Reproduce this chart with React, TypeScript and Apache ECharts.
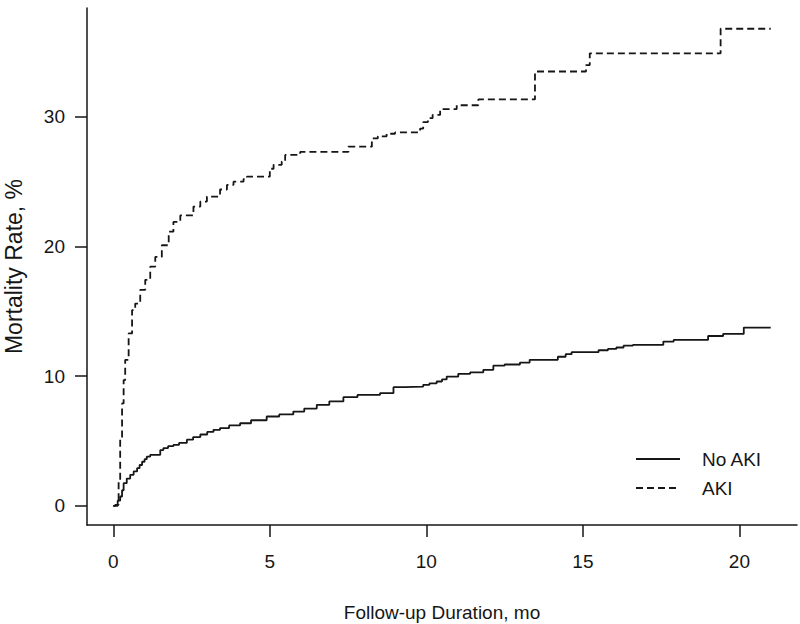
import React, { useEffect, useRef } from "react";
import * as echarts from "echarts";

// Kaplan-Meier style cumulative mortality (step changes at each time)
const akiTime = [0, 0.06, 0.17, 0.22, 0.28, 0.33, 0.38, 0.49, 0.6, 0.7, 0.86, 1.02, 1.18, 1.34, 1.55, 1.77, 1.92, 2.14, 2.56, 2.78, 2.99, 3.41, 3.63, 3.84, 4.16, 4.27, 5.0, 5.12, 5.38, 5.49, 5.97, 7.51, 8.26, 8.45, 8.73, 9.0, 9.8, 9.9, 10.05, 10.2, 10.44, 10.97, 11.66, 13.47, 15.1, 15.22, 19.4, 21];
const akiRate = [0, 0.08, 2.0, 5.1, 7.9, 9.7, 11.26, 13.3, 15.1, 15.6, 16.66, 17.43, 18.45, 19.2, 20.1, 21.15, 21.9, 22.4, 23.08, 23.47, 23.85, 24.4, 24.75, 25.0, 25.2, 25.4, 26.0, 26.3, 26.55, 27.07, 27.3, 27.7, 28.35, 28.5, 28.7, 28.8, 29.1, 29.6, 29.9, 30.15, 30.6, 30.9, 31.35, 33.5, 34.0, 34.9, 36.8, 36.8];

const noAkiTime = [0, 0.06, 0.14, 0.22, 0.28, 0.33, 0.43, 0.54, 0.65, 0.76, 0.84, 0.92, 1.0, 1.07, 1.18, 1.5, 1.6, 1.75, 1.92, 2.1, 2.35, 2.55, 2.78, 3.0, 3.2, 3.41, 3.7, 4.05, 4.4, 4.9, 5.3, 5.75, 6.1, 6.5, 6.9, 7.35, 7.8, 8.52, 8.95, 9.3, 9.9, 10.1, 10.33, 10.5, 10.65, 11.02, 11.4, 11.82, 12.14, 12.5, 12.99, 13.3, 14.2, 14.45, 14.64, 15.5, 15.8, 16.07, 16.3, 16.6, 17.57, 17.9, 19.0, 19.48, 20.14, 21];
const noAkiRate = [0, 0, 0.4, 0.72, 1.2, 1.75, 2.1, 2.39, 2.65, 2.9, 3.15, 3.4, 3.6, 3.8, 3.93, 4.3, 4.45, 4.6, 4.7, 4.85, 5.1, 5.3, 5.5, 5.7, 5.86, 6.0, 6.2, 6.37, 6.6, 6.89, 7.05, 7.27, 7.5, 7.79, 8.05, 8.38, 8.55, 8.69, 9.15, 9.2, 9.33, 9.45, 9.59, 9.75, 9.97, 10.18, 10.3, 10.49, 10.82, 10.9, 11.05, 11.26, 11.5, 11.7, 11.85, 12.0, 12.1, 12.21, 12.35, 12.42, 12.67, 12.8, 13.1, 13.26, 13.75, 13.75];

const xTicks = [0, 5, 10, 15, 20];
const yTicks = [0, 10, 20, 30];
const seriesNames = ["No AKI", "AKI"];

const FONT = "'Liberation Sans', Arial, sans-serif";
const INK = "#161616";
const DASH = [7, 4];

export default function App() {
  const ref = useRef<HTMLDivElement>(null);
  useEffect(() => {
    if (!ref.current) return;
    const chart = echarts.init(ref.current, null, { renderer: "svg" });
    const pair = (t: number[], v: number[]) => t.map((x, i) => [x, v[i]]);
    const legendRow = (y: number, name: string, dash: number[] | null) => ({
      type: "group",
      children: [
        {
          type: "line",
          shape: { x1: 636, y1: y, x2: 680, y2: y },
          style: { stroke: INK, lineWidth: 1.8, lineDash: dash || undefined },
        },
        {
          type: "text",
          x: 702,
          y: y,
          style: { text: name, fontSize: 19, fontFamily: FONT, fill: INK, verticalAlign: "middle", align: "left" },
        },
      ],
    });
    chart.setOption({
      animation: false,
      backgroundColor: "#ffffff",
      textStyle: { fontFamily: FONT, color: INK },
      grid: { left: 87, right: 3, top: 8, bottom: 99, containLabel: false, outerBoundsMode: "none" },
      graphic: [legendRow(459, seriesNames[0], null), legendRow(488, seriesNames[1], DASH)],
      xAxis: {
        type: "value",
        min: -0.84,
        max: 21.84,
        name: "Follow-up Duration, mo",
        nameLocation: "middle",
        nameGap: 78,
        nameTextStyle: { fontSize: 19, fontFamily: FONT, color: INK },
        axisLine: { show: true, onZero: false, lineStyle: { color: INK, width: 1.5 } },
        axisTick: { show: true, length: 12, inside: false, customValues: xTicks, lineStyle: { color: INK, width: 1.5 } },
        axisLabel: { customValues: xTicks, fontSize: 19, margin: 27, color: INK, fontFamily: FONT },
        splitLine: { show: false },
      },
      yAxis: {
        type: "value",
        min: -1.48,
        max: 38.4,
        name: "Mortality Rate, %",
        nameLocation: "middle",
        nameGap: 62,
        nameTextStyle: { fontSize: 23, fontFamily: FONT, color: INK },
        axisLine: { show: true, onZero: false, lineStyle: { color: INK, width: 1.5 } },
        axisTick: { show: true, length: 12, inside: false, customValues: yTicks, lineStyle: { color: INK, width: 1.5 } },
        axisLabel: { customValues: yTicks, fontSize: 19, margin: 22, color: INK, fontFamily: FONT },
        splitLine: { show: false },
      },
      series: [
        {
          name: seriesNames[0],
          type: "line",
          step: "end",
          symbol: "none",
          data: pair(noAkiTime, noAkiRate),
          lineStyle: { color: INK, width: 1.8, type: "solid" },
          itemStyle: { color: INK },
        },
        {
          name: seriesNames[1],
          type: "line",
          step: "end",
          symbol: "none",
          data: pair(akiTime, akiRate),
          lineStyle: { color: INK, width: 1.8, type: DASH },
          itemStyle: { color: INK },
        },
      ],
    });
    return () => chart.dispose();
  }, []);
  return (
    <div
      ref={ref}
      style={{ position: "fixed", left: 0, top: 0, width: 800, height: 624, background: "#fff" }}
    />
  );
}
